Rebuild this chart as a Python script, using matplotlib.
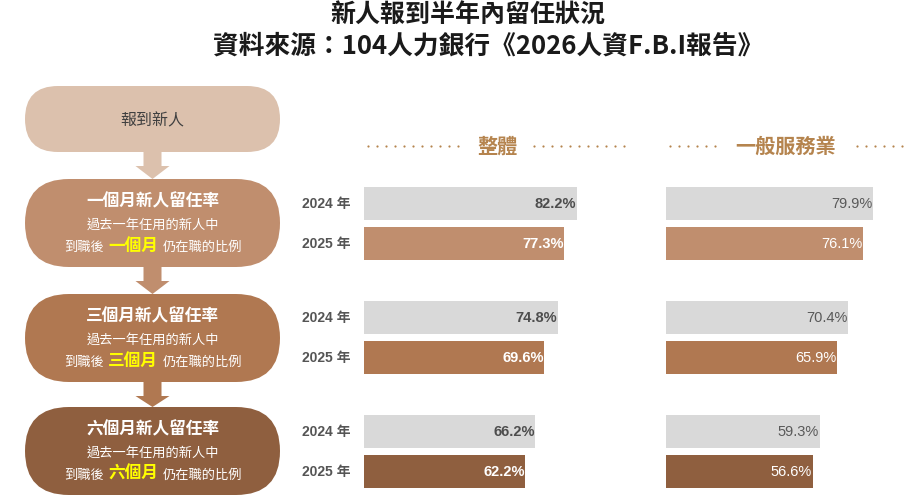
import matplotlib.pyplot as plt
from matplotlib.patches import FancyBboxPatch, Polygon
import numpy as np

plt.rcParams['font.family'] = ['Liberation Sans', 'Noto Sans CJK TC', 'DejaVu Sans']

# data
title_1 = '新人報到半年內留任狀況'
title_2 = '資料來源：104人力銀行《2026人資F.B.I報告》'
start_label = '報到新人'
stages = ['一個月新人留任率', '三個月新人留任率', '六個月新人留任率']
months = ['一個月', '三個月', '六個月']
years = ['2024 年', '2025 年']
panels = ['整體', '一般服務業']
overall_2024 = [82.2, 74.8, 66.2]
overall_2025 = [77.3, 69.6, 62.2]
service_2024 = [79.9, 70.4, 59.3]
service_2025 = [76.1, 65.9, 56.6]

box_colors = ['#dcc1ad', '#c08e6e', '#b07851', '#8f5f3f']
grey = '#d9d9d9'
gold = '#b5844e'
cjk = ['Noto Sans CJK TC', 'DejaVu Sans']

W, H = 921, 502
fig = plt.figure(figsize=(W / 100, H / 100), dpi=100)
ax0 = fig.add_axes([0, 0, 1, 1])
ax0.set_xlim(0, W)
ax0.set_ylim(H, 0)
ax0.axis('off')

# title
ax0.text(468, 16, title_1, ha='center', va='center', fontsize=18, fontweight='bold',
         color='#1a1a1a', family=cjk)
ax0.text(488, 46, title_2, ha='center', va='center', fontsize=18.5, fontweight='bold',
         color='#1a1a1a', family=cjk)

# flow boxes on the left
bx0, bx1 = 25, 280
box_tops = [87, 180, 295, 408]
box_bottoms = [153, 268, 383, 496]
for i in range(4):
    t, b = box_tops[i], box_bottoms[i]
    h = b - t
    ax0.add_patch(FancyBboxPatch((bx0, t), bx1 - bx0, h,
                                 boxstyle=f'round,pad=0,rounding_size={h / 2}',
                                 fc=box_colors[i], ec='none'))
    if i < 3:
        nt = box_tops[i + 1]
        mid = b + 14
        cx = (bx0 + bx1) / 2
        ax0.add_patch(Polygon([(cx - 9, b), (cx + 9, b), (cx + 9, mid), (cx + 17, mid),
                               (cx, nt), (cx - 17, mid), (cx - 9, mid)],
                              closed=True, fc=box_colors[i], ec='none'))

cx = (bx0 + bx1) / 2
ax0.text(cx, 121, start_label, ha='center', va='center', fontsize=11.5, color='#404040', family=cjk)
for i in range(3):
    t = box_tops[i + 1]
    ax0.text(cx, t + 21, stages[i], ha='center', va='center', fontsize=12,
             fontweight='bold', color='white', family=cjk)
    ax0.text(cx, t + 45, '過去一年任用的新人中', ha='center', va='center', fontsize=9.5,
             color='white', family=cjk)
    ax0.text(104, t + 67, '到職後', ha='right', va='center', fontsize=9.5, color='white', family=cjk)
    ax0.text(133, t + 66, months[i], ha='center', va='center', fontsize=12,
             fontweight='bold', color='#ffff00', family=cjk)
    ax0.text(163, t + 67, '仍在職的比例', ha='left', va='center', fontsize=9.5, color='white', family=cjk)

# bar panels
bar_h = 33
group_y = [204, 318, 432.5]
px_per_pct = 2.59
panel_left = [364, 666]
panel_data = [(overall_2024, overall_2025), (service_2024, service_2025)]

for p in range(2):
    ax = fig.add_axes([panel_left[p] / W, 0, 100 * px_per_pct / W, 1])
    ax.set_xlim(0, 100)
    ax.set_ylim(H, 0)
    ax.axis('off')
    v24, v25 = panel_data[p]
    y24 = np.array(group_y)
    y25 = y24 + 40
    ax.barh(y24, v24, height=bar_h, color=grey, edgecolor='none')
    ax.barh(y25, v25, height=bar_h, color=box_colors[1:], edgecolor='none')
    weight = 'bold' if p == 0 else 'normal'
    c24 = '#4d4d4d' if p == 0 else '#595959'
    for k in range(3):
        ax.text(v24[k] - 0.2, y24[k], f'{v24[k]:.1f}%', ha='right', va='center',
                fontsize=10.5, fontweight=weight, color=c24)
        ax.text(v25[k] - 0.2, y25[k], f'{v25[k]:.1f}%', ha='right', va='center',
                fontsize=10.5, fontweight=weight, color='white')

# year labels
for k in range(3):
    for j, yr in enumerate(years):
        ax0.text(350, group_y[k] + 40 * j, yr, ha='right', va='center', fontsize=10,
                 fontweight='bold', color='#555555')

# panel headers with dotted rules
ax0.text(497, 146, panels[0], ha='center', va='center', fontsize=14.5, fontweight='bold',
         color=gold, family=cjk)
ax0.text(786, 146, panels[1], ha='center', va='center', fontsize=14.5, fontweight='bold',
         color=gold, family=cjk)
for a, b in [(368, 458), (534, 628), (670, 718), (857, 903)]:
    xs = np.arange(a, b + 1, 9)
    ax0.scatter(xs, np.full(len(xs), 147), s=2.5, color=gold, linewidths=0)

fig.savefig('out.png', dpi=100)
